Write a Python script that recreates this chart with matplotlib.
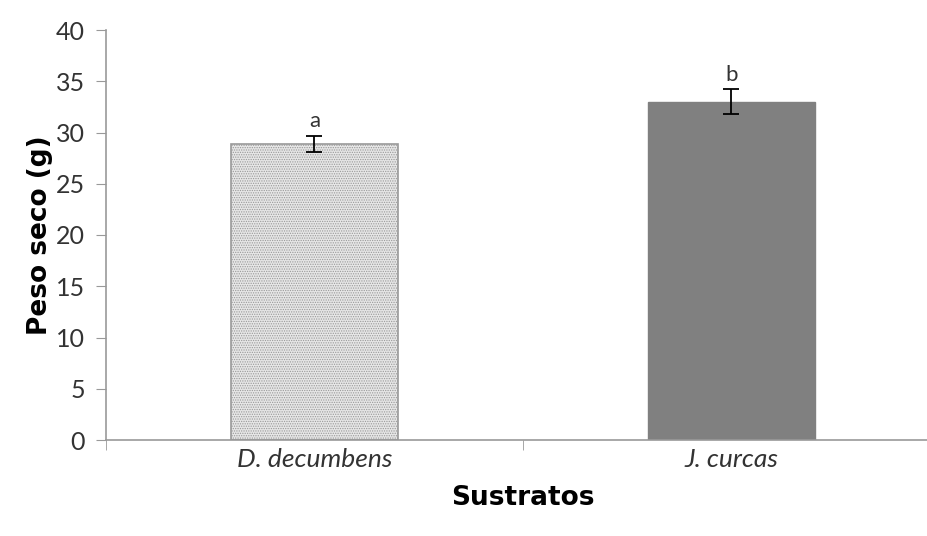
import matplotlib.pyplot as plt
import numpy as np

plt.rcParams['font.family'] = ['Lato', 'DejaVu Sans']
plt.rcParams['hatch.linewidth'] = 0.6

sustratos = ['D. decumbens', 'J. curcas']
peso = [28.9, 33.0]
err = [0.8, 1.2]
letras = ['a', 'b']

fig = plt.figure(figsize=(9.28, 5.36), dpi=100)
ax = fig.add_axes([106/928, 96/536, 834/928, 410/536])

x = np.arange(len(sustratos))
ax.bar(x[0], peso[0], width=0.4, color='#e6e6e6', edgecolor='#999999',
       hatch='.......', linewidth=1.2)
ax.bar(x[1], peso[1], width=0.4, color='#808080', edgecolor='#808080')
ax.errorbar(x, peso, yerr=err, fmt='none', ecolor='black', elinewidth=1.3,
            capsize=6, capthick=1.3)
for xi, p, e, l in zip(x, peso, err, letras):
    ax.text(xi, p + e + 0.4, l, ha='center', va='bottom', fontsize=16,
            color='#333333')

ax.set_xlim(-0.5, 1.5)
ax.set_ylim(0, 40)
ax.set_yticks(range(0, 41, 5))
ax.set_xticks(x)
ax.set_xticklabels(sustratos, style='italic')
ax.set_xticks([-0.5, 0.5, 1.5], minor=True)
ax.tick_params(axis='x', which='major', length=0, pad=6, labelsize=19,
               labelcolor='#333333')
ax.tick_params(axis='x', which='minor', length=7, color='#999999')
ax.tick_params(axis='y', length=7, color='#999999', labelsize=18, pad=8,
               labelcolor='#333333')

for s in ['top', 'right']:
    ax.spines[s].set_visible(False)
for s in ['left', 'bottom']:
    ax.spines[s].set_color('#999999')
    ax.spines[s].set_linewidth(1.2)

ax.set_ylabel('Peso seco (g)', fontsize=19, fontweight='bold',
              family='DejaVu Sans', labelpad=2)
ax.set_xlabel('Sustratos', fontsize=19, fontweight='bold',
              family='DejaVu Sans', labelpad=10)

fig.savefig('out.png', dpi=100)
